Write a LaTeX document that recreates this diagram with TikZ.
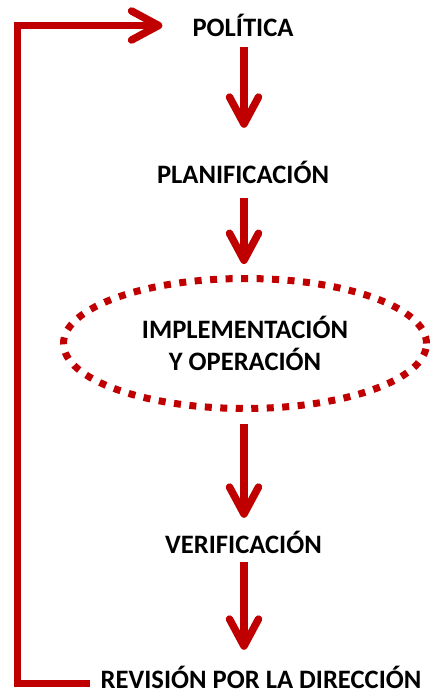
\documentclass[tikz,border=0pt]{standalone}
\usepackage{fontspec}
\setmainfont{Carlito}
\usetikzlibrary{arrows.meta,shapes.geometric}
\definecolor{dred}{HTML}{C00000}
\tikzset{
  lbl/.style={font=\fontsize{26.6}{32}\selectfont\bfseries, inner sep=0pt, text height=16pt, text depth=0pt, anchor=base},
  arr/.style={draw=dred, line width=7.5pt, -{Straight Barb[length=27pt, width=29pt, round]}},
  ring/.style={ellipse, draw=dred, line width=7pt, dash pattern=on 7pt off 8.5pt, minimum width=363pt, minimum height=130pt, inner sep=0pt, align=center, font=\fontsize{26.6}{32}\selectfont\bfseries}
}
\begin{document}
\begin{tikzpicture}[x=1pt,y=-1pt]
\useasboundingbox (0,0) rectangle (430,693);
\node[lbl] (pol) at (243,37) {POLÍTICA};
\node[lbl] (plan) at (243,183) {PLANIFICACIÓN};
\node[ring] (imp) at (245,343.5) {IMPLEMENTACIÓN\\Y OPERACIÓN};
\node[lbl] (ver) at (243.5,553) {VERIFICACIÓN};
\node[lbl] (rev) at (261,688) {REVISIÓN POR LA DIRECCIÓN};
\coordinate (ax) at (244,0);
\coordinate (lx) at (17.5,0);
\draw[arr] ([yshift=-10pt]pol.south -| ax) -- ([yshift=39pt]plan.north -| ax);
\draw[arr] ([yshift=-15pt]plan.south -| ax) -- ([yshift=11pt]imp.north -| ax);
\draw[arr] ([yshift=-11.5pt]imp.south -| ax) -- ([yshift=19pt]ver.north -| ax);
\draw[arr] ([yshift=-9pt]ver.south -| ax) -- ([yshift=22pt]rev.north -| ax);
\draw[arr, line join=miter] ([xshift=-10pt,yshift=-3.5pt]rev.west) -- ([yshift=-3.5pt]rev.west -| lx) -- ([yshift=3.5pt]pol.west -| lx) -- ([xshift=-30pt,yshift=3.5pt]pol.west);
\end{tikzpicture}
\end{document}
